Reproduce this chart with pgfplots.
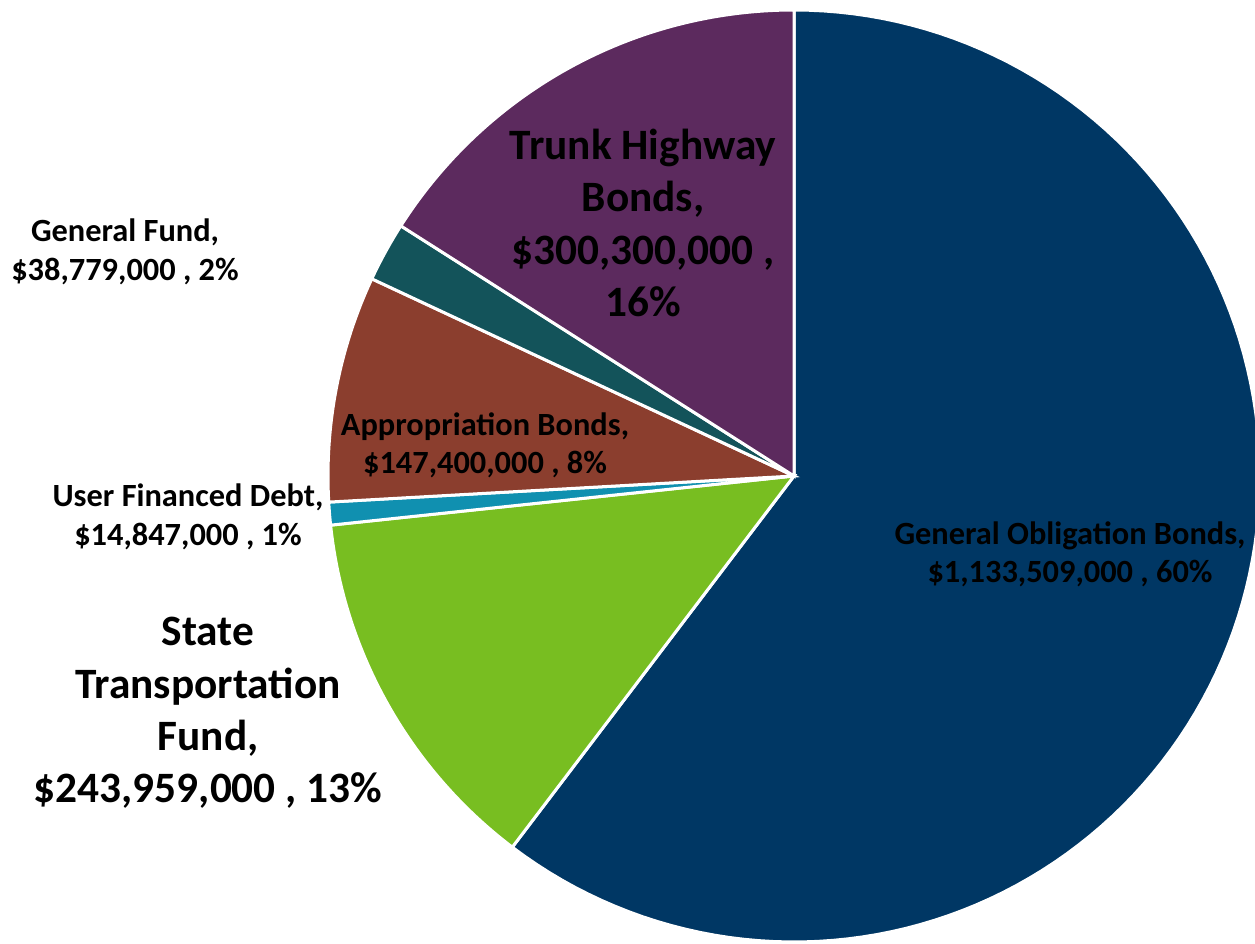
\documentclass[border=0pt]{standalone}
\usepackage{pgfplots}
\pgfplotsset{compat=1.18}
\usepackage{pgfplotstable}
\usepackage{fontspec}
\setmainfont{Carlito}

% amounts in millions of dollars
\pgfplotstableread{
name value
GO     1133.509
STF    243.959
UFD    14.847
AB     147.400
GF     38.779
THB    300.300
}\piedata

\definecolor{cGO}{HTML}{003764}
\definecolor{cSTF}{HTML}{78BE21}
\definecolor{cUFD}{HTML}{1090B0}
\definecolor{cAB}{HTML}{8B3E2E}
\definecolor{cGF}{HTML}{13535A}
\definecolor{cTHB}{HTML}{5C2A5E}

\tikzset{
    lbl/.style={font=\bfseries\fontsize{32.5}{38.5}\selectfont, align=center, inner sep=0pt},
    big/.style={font=\bfseries\fontsize{43.5}{52.5}\selectfont, align=center, inner sep=0pt},
}

\newcommand\getv[2]{\pgfplotstablegetelem{#1}{value}\of\piedata\global\let#2\pgfplotsretval}
\getv{0}\vA \getv{1}\vB \getv{2}\vC \getv{3}\vD \getv{4}\vE \getv{5}\vF
\pgfmathsetmacro\total{\vA+\vB+\vC+\vD+\vE+\vF}
% slice boundaries, clockwise from 12 o'clock
\pgfmathsetmacro\bA{90}
\pgfmathsetmacro\bB{\bA-360*(\vA/\total)}
\pgfmathsetmacro\bC{\bB-360*(\vB/\total)}
\pgfmathsetmacro\bD{\bC-360*(\vC/\total)}
\pgfmathsetmacro\bE{\bD-360*(\vD/\total)}
\pgfmathsetmacro\bF{\bE-360*(\vE/\total)}
\pgfmathsetmacro\bG{\bF-360*(\vF/\total)}
\def\cx{794}\def\cy{468}\def\R{466}

\begin{document}%
\begin{tikzpicture}
\begin{axis}[
    at={(0,0)}, anchor=south west,
    width=1255bp, height=944bp, scale only axis,
    xmin=0, xmax=1255, ymin=0, ymax=944,
    hide axis,
    every axis plot/.append style={draw=white, line width=3bp, samples=120},
]
\addplot[fill=cGO, domain=\bB:\bA] ({\cx+\R*cos(x)},{\cy+\R*sin(x)}) -- (axis cs:\cx,\cy) -- cycle;
\addplot[fill=cSTF, domain=\bC:\bB] ({\cx+\R*cos(x)},{\cy+\R*sin(x)}) -- (axis cs:\cx,\cy) -- cycle;
\addplot[fill=cUFD, domain=\bD:\bC] ({\cx+\R*cos(x)},{\cy+\R*sin(x)}) -- (axis cs:\cx,\cy) -- cycle;
\addplot[fill=cAB, domain=\bE:\bD] ({\cx+\R*cos(x)},{\cy+\R*sin(x)}) -- (axis cs:\cx,\cy) -- cycle;
\addplot[fill=cGF, domain=\bF:\bE] ({\cx+\R*cos(x)},{\cy+\R*sin(x)}) -- (axis cs:\cx,\cy) -- cycle;
\addplot[fill=cTHB, domain=\bG:\bF] ({\cx+\R*cos(x)},{\cy+\R*sin(x)}) -- (axis cs:\cx,\cy) -- cycle;

\node[big] at (axis cs:643,721) {Trunk Highway\\Bonds,\\\$300,300,000 ,\\16\%};
\node[lbl] at (axis cs:125,692) {General Fund,\\\$38,779,000 , 2\%};
\node[lbl] at (axis cs:485,499) {Appropriation Bonds,\\\$147,400,000 , 8\%};
\node[lbl] at (axis cs:188,427) {User Financed Debt,\\\$14,847,000 , 1\%};
\node[big] at (axis cs:208,231) {State\\Transportation\\Fund,\\\$243,959,000 , 13\%};
\node[lbl] at (axis cs:1070,390) {General Obligation Bonds,\\\$1,133,509,000 , 60\%};
\end{axis}
\pgfresetboundingbox
\path[use as bounding box] (0,0) rectangle (1255bp,944bp);
\end{tikzpicture}%
\end{document}
